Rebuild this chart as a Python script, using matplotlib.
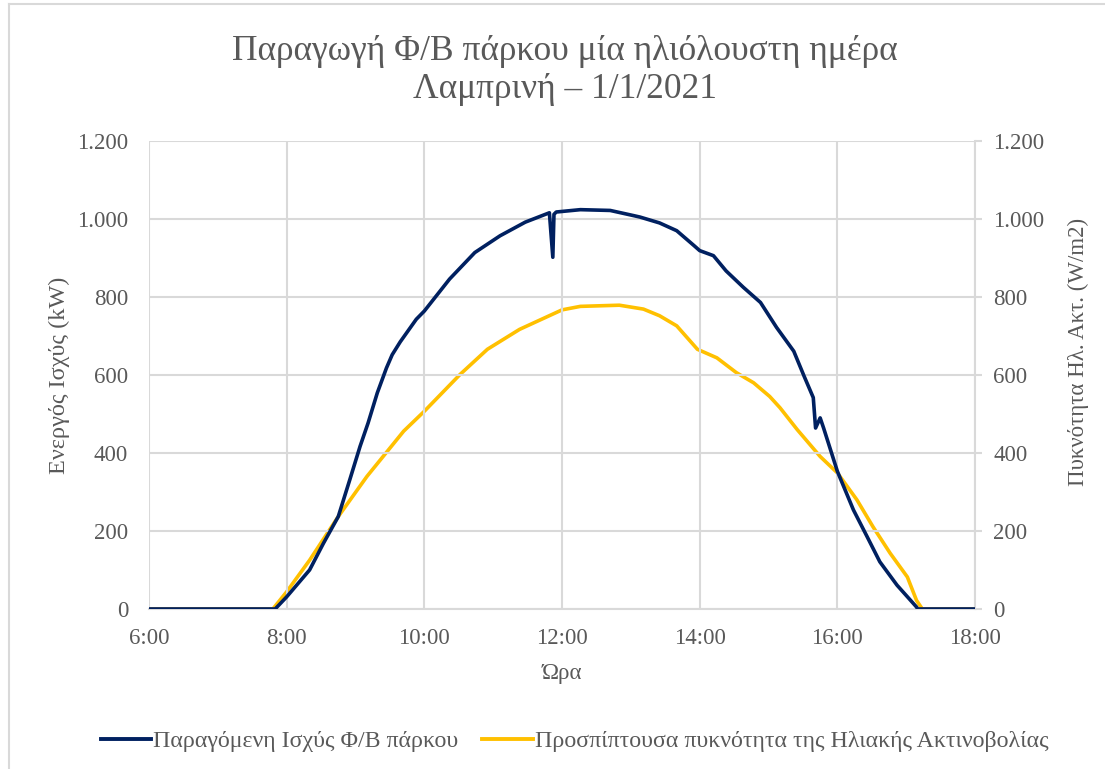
import matplotlib.pyplot as plt
from matplotlib.lines import Line2D
from matplotlib.ticker import FuncFormatter

# Time stamps (HH:MM) and readings for the clear day
power_time = ["6:00", "7:50", "8:00", "8:20", "8:32", "8:45", "8:55", "9:04", "9:11",
              "9:19", "9:27", "9:32", "9:39", "9:53", "10:00", "10:22", "10:44", "11:06",
              "11:28", "11:49", "11:52", "11:53", "11:55", "12:16", "12:42", "13:02",
              "13:08", "13:25", "13:40", "13:55", "14:00", "14:12", "14:23", "14:38",
              "14:53", "15:07", "15:22", "15:31", "15:39", "15:41", "15:45", "15:48",
              "16:00", "16:14", "16:26", "16:37", "16:52", "17:09", "17:10", "18:00"]
power_kw = [0, 0, 31, 100, 168, 237, 331, 417, 477,
            554, 618, 652, 685, 743, 764, 846, 914, 957,
            992, 1016, 902, 1012, 1018, 1024, 1022, 1009,
            1005, 990, 970, 932, 919, 906, 867, 825,
            786, 722, 661, 597, 542, 464, 490, 464,
            353, 254, 185, 121, 61, 5, 0, 0]

sun_time = ["6:00", "7:48", "8:00", "8:20", "8:45", "9:10", "9:42", "10:00", "10:31",
            "10:55", "11:23", "12:00", "12:16", "12:50", "13:11", "13:25", "13:40",
            "13:58", "14:15", "14:32", "14:47", "15:01", "15:10", "15:25", "15:45",
            "16:00", "16:17", "16:31", "16:46", "17:01", "17:09", "17:14", "18:00"]
sun_wm2 = [0, 0, 44, 125, 237, 340, 456, 507, 601,
           666, 717, 767, 776, 779, 769, 752, 726,
           666, 644, 606, 580, 545, 516, 460, 391,
           349, 280, 211, 143, 82, 22, 0, 0]

x_ticks = ["6:00", "8:00", "10:00", "12:00", "14:00", "16:00", "18:00"]
y_ticks = [0, 200, 400, 600, 800, 1000, 1200]


def to_hours(t):
    h, m = t.split(":")
    return int(h) + int(m) / 60


def thousands(v, pos):
    return f"{int(v):,}".replace(",", ".")


plt.rcParams['font.family'] = ['Liberation Serif', 'DejaVu Serif']
text_col = "#595959"
grid_col = "#D9D9D9"
navy = "#002060"
gold = "#FFC000"

fig = plt.figure(figsize=(11.05, 7.69), dpi=100)
ax = fig.add_axes([0.1348, 0.2081, 0.7476, 0.6085])
ax2 = ax.twinx()

ax.plot([to_hours(t) for t in power_time], power_kw, color=navy, lw=2.6,
        solid_joinstyle="round", zorder=4)
ax2.plot([to_hours(t) for t in sun_time], sun_wm2, color=gold, lw=2.6,
         solid_joinstyle="round", zorder=3)
ax.set_zorder(ax2.get_zorder() + 1)
ax.patch.set_visible(False)

xt = [to_hours(t) for t in x_ticks]
ax.set_xlim(6, 18)
ax.set_xticks(xt)
ax.set_xticklabels(x_ticks)
for a in (ax, ax2):
    a.set_ylim(0, 1200)
    a.set_yticks(y_ticks)
    a.yaxis.set_major_formatter(FuncFormatter(thousands))
    for s in a.spines.values():
        s.set_visible(False)

ax.grid(True, color=grid_col, lw=1.5)
ax.set_axisbelow(True)
ax.spines["bottom"].set_visible(True)
ax.spines["bottom"].set_color(grid_col)
ax.spines["bottom"].set_linewidth(1.5)
ax2.spines["right"].set_visible(True)
ax2.spines["right"].set_color(grid_col)
ax2.spines["right"].set_linewidth(1.5)

ax.tick_params(axis="both", length=0, labelsize=16.5, labelcolor=text_col, pad=15)
ax.tick_params(axis="x", pad=14)
ax2.tick_params(axis="y", length=5, width=1.5, color=grid_col, labelsize=16.5,
                labelcolor=text_col, pad=8)

ax.set_xlabel("Ώρα", fontsize=16.5, color=text_col, labelpad=10)
ax.set_ylabel("Ενεργός Ισχύς (kW)", fontsize=17.5, color=text_col, labelpad=5)
ax2.set_ylabel("Πυκνότητα Ηλ. Ακτ. (W/m2)", fontsize=16.5, color=text_col)
ax2.yaxis.set_label_coords(1.112, 0.55)

fig.text(0.511, 0.908, "Παραγωγή Φ/Β πάρκου μία ηλιόλουστη ημέρα\nΛαμπρινή – 1/1/2021",
         ha="center", va="center", fontsize=25.5, color=text_col, linespacing=1.2)

handles = [Line2D([], [], color=navy, lw=2.8), Line2D([], [], color=gold, lw=2.8)]
fig.legend(handles, ["Παραγόμενη Ισχύς Φ/Β πάρκου",
                     "Προσπίπτουσα πυκνότητα της Ηλιακής Ακτινοβολίας"],
           loc="center", bbox_to_anchor=(0.52, 0.036), ncol=2, frameon=False,
           fontsize=17.2, labelcolor=text_col, handlelength=2.1, handletextpad=0.1,
           columnspacing=1.0)

# light chart-area border
fig.add_artist(Line2D([0.008, 0.008], [0, 0.995], transform=fig.transFigure,
                      color=grid_col, lw=1.5))
fig.add_artist(Line2D([0.008, 1], [0.995, 0.995], transform=fig.transFigure,
                      color=grid_col, lw=1.5))

fig.savefig("out.png", dpi=100)
